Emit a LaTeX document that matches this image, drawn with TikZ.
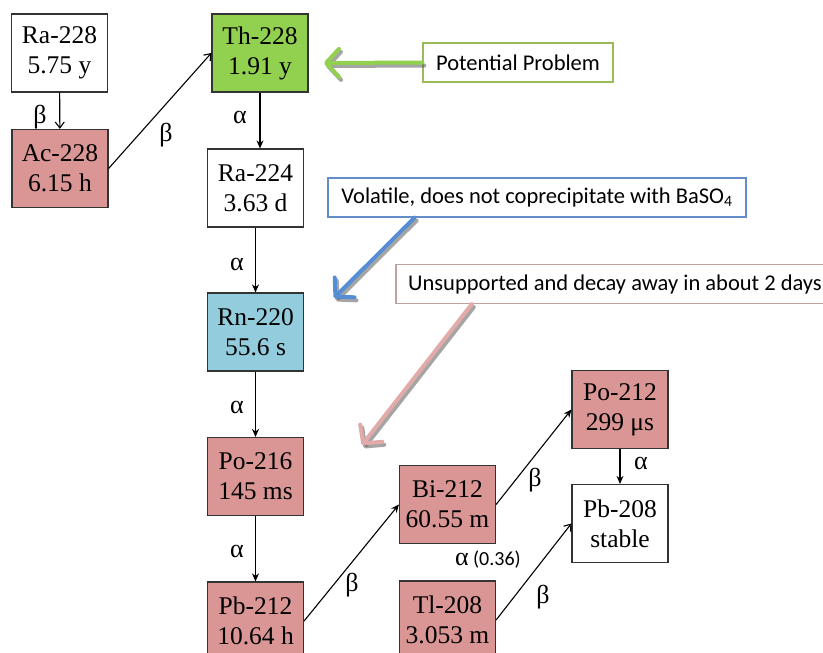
\documentclass[tikz,border=0pt]{standalone}
\usepackage{fontspec}
\setmainfont{Liberation Serif}
\newfontfamily\calfont{Carlito}
\usetikzlibrary{arrows.meta,calc}
\definecolor{thgreen}{RGB}{146,208,80}
\definecolor{nucpink}{RGB}{217,150,148}
\definecolor{rncyan}{RGB}{147,205,221}
\definecolor{cgreen}{RGB}{155,187,89}
\definecolor{cblue}{RGB}{100,140,200}
\definecolor{cpink}{RGB}{192,160,160}
\definecolor{agreen}{RGB}{146,208,80}
\definecolor{ablue}{RGB}{85,142,213}
\definecolor{apink}{RGB}{226,170,168}
\tikzset{
  iso/.style={draw=black!80, line width=1.2pt, minimum width=96pt, minimum height=78pt,
    inner sep=0pt, align=center, font=\fontsize{25.5}{30}\selectfont},
  decf/.style={-{Stealth[length=8pt,width=7pt]}, line width=1.1pt},
  deco/.style={-{Straight Barb[length=6pt,width=9pt]}, line width=1.1pt},
  lab/.style={font=\fontsize{26}{26}\selectfont, inner sep=0pt},
  callout/.style={draw, line width=1.2pt, fill=white, minimum height=39pt, inner sep=0pt,
    font=\calfont\fontsize{22.5}{26}\selectfont},
  fat/.style={line width=4pt, line cap=round, -{Straight Barb[length=13pt,width=28pt,line cap=round,line join=round]}},
  fatshadow/.style={fat, draw=black!70, opacity=0.5, transform canvas={shift={(2pt,-3pt)}}}
}
\begin{document}
\begin{tikzpicture}[x=1pt,y=-1pt]
\useasboundingbox (0,0) rectangle (823,653);
\clip (0,0) rectangle (823,653);
\fill[white] (0,0) rectangle (823,653);
% nuclides
\node[iso] (ra228) at (59.5,53) {Ra-228\\5.75 y};
\node[iso, fill=nucpink] (ac228) at (60,168.5) {Ac-228\\6.15 h};
\node[iso, fill=thgreen] (th228) at (260,53) {Th-228\\1.91 y};
\node[iso] (ra224) at (255.5,188) {Ra-224\\3.63 d};
\node[iso, fill=rncyan] (rn220) at (255.5,332) {Rn-220\\55.6 s};
\node[iso, fill=nucpink] (po216) at (255.5,476.5) {Po-216\\145 ms};
\node[iso, fill=nucpink] (pb212) at (255.5,621) {Pb-212\\10.64 h};
\node[iso, fill=nucpink] (bi212) at (447.5,504.5) {Bi-212\\60.55 m};
\node[iso, fill=nucpink] (tl208) at (447.5,620) {Tl-208\\3.053 m};
\node[iso, fill=nucpink] (po212) at (620,409.5) {Po-212\\299 μs};
\node[iso] (pb208) at (620,523.5) {Pb-208\\stable};
% decays
\draw[deco] (ra228) -- (ac228);
\draw[deco] (ac228.east) -- (th228.west);
\draw[decf] (th228.south) -- (th228.south |- ra224.north);
\draw[decf] (ra224) -- (rn220);
\draw[decf] (rn220) -- (po216);
\draw[decf] (po216) -- (pb212);
\draw[decf] (pb212.east) -- (bi212.west);
\draw[decf] (bi212.east) -- (po212.west);
\draw[decf] (po212) -- (pb208);
\draw[deco] (tl208.east) -- (pb208.west);
% labels
\node[lab] (lb1) at (40,117) {β};
\node[lab] (lb2) at (166,135) {β};
\node[lab] (la1) at (240,117) {α};
\node[lab] (la2) at (237,264) {α};
\node[lab] (la3) at (237,407) {α};
\node[lab] (la4) at (237,551) {α};
\node[lab] (lb3) at (352,585) {β};
\node[lab] (lb4) at (535,480) {β};
\node[lab] (la5) at (641,463) {α};
\node[lab] (lb5) at (543,597) {β};
\node[inner sep=0pt] (la6) at (488,560) {\fontsize{26}{26}\selectfont α\,\calfont\fontsize{20}{20}\selectfont(0.36)};
% callouts
\node[callout, draw=cgreen, minimum width=190pt] (pot) at (518,62.5) {Potential Problem};
\node[callout, draw=cblue, minimum width=418pt] (vol) at (537,197.5) {Volatile, does not coprecipitate with BaSO\textsubscript{4}};
\node[callout, draw=cpink, minimum width=438pt] (uns) at (615,284) {Unsupported and decay away in about 2 days};
\coordinate (gtip) at (324,63);
\coordinate (btip) at (334,298);
\coordinate (ptip) at (362,445);
\coordinate (bstart) at ($(vol.south west)!0.208!(vol.south east)$);
\coordinate (pstart) at ($(uns.south west)!0.174!(uns.south east)$);
\draw[fatshadow] (pot.west) -- (gtip);
\draw[fat, draw=agreen] (pot.west) -- (gtip);
\draw[fatshadow] (bstart) -- (btip);
\draw[fat, draw=ablue] (bstart) -- (btip);
\draw[fatshadow] (pstart) -- (ptip);
\draw[fat, draw=apink] (pstart) -- (ptip);
\end{tikzpicture}
\end{document}
